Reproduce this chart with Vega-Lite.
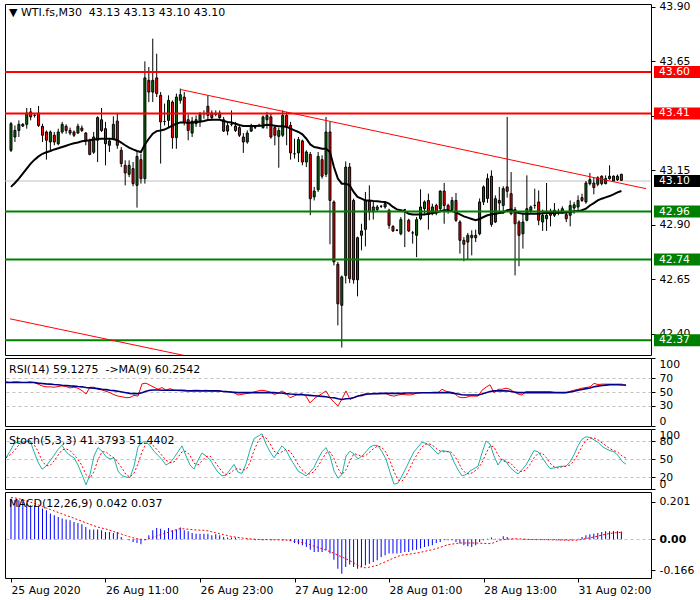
{
"$schema":"https://vega.github.io/schema/vega-lite/v6.json",
"background":"white",
"padding":{"left":2,"top":0,"right":0,"bottom":0},
"spacing":3,
"bounds":"flush",
"config":{
 "font":"DejaVu Sans",
 "view":{"stroke":"black","strokeWidth":1},
 "axis":{"labelFont":"DejaVu Sans","labelFontSize":10.8,"labelColor":"black","tickColor":"black","domainColor":"black","grid":false},
 "title":{"font":"DejaVu Sans","fontSize":11,"fontWeight":"normal","color":"black","anchor":"start","frame":"group","offset":-17,"baseline":"middle","dx":4}
},
"datasets":{
 "levels":[
  {"p":43.60,"kind":"res"},{"p":43.41,"kind":"res"},{"p":43.10,"kind":"bid"},{"p":42.96,"kind":"sup"},{"p":42.74,"kind":"sup"},{"p":42.37,"kind":"sup"}
 ],
 "trend":[
  {"line":"upper","i":43,"p":43.520},{"line":"upper","i":161.25,"p":43.065},
  {"line":"lower","i":-0.25,"p":42.468},{"line":"lower","i":50,"p":42.277}
 ],
 "bars":[
{"i":0,"o":43.241,"h":43.371,"l":43.233,"c":43.363,"ma":43.073,"rsi":65,"rm":64,"k":52,"d":52,"m":0.218,"s":0.224},
{"i":1,"o":43.302,"h":43.355,"l":43.279,"c":43.332,"ma":43.091,"rsi":64,"rm":64,"k":63,"d":57,"m":0.213,"s":0.222},
{"i":2,"o":43.332,"h":43.378,"l":43.302,"c":43.360,"ma":43.111,"rsi":65,"rm":64,"k":75,"d":63,"m":0.210,"s":0.218},
{"i":3,"o":43.352,"h":43.366,"l":43.348,"c":43.360,"ma":43.134,"rsi":65,"rm":64,"k":79,"d":72,"m":0.201,"s":0.212},
{"i":4,"o":43.360,"h":43.435,"l":43.340,"c":43.412,"ma":43.157,"rsi":64,"rm":64,"k":78,"d":77,"m":0.192,"s":0.206},
{"i":5,"o":43.417,"h":43.435,"l":43.378,"c":43.394,"ma":43.180,"rsi":64,"rm":64,"k":79,"d":79,"m":0.183,"s":0.199},
{"i":6,"o":43.401,"h":43.412,"l":43.391,"c":43.401,"ma":43.198,"rsi":65,"rm":64,"k":81,"d":79,"m":0.183,"s":0.192},
{"i":7,"o":43.412,"h":43.444,"l":43.348,"c":43.355,"ma":43.213,"rsi":64,"rm":64,"k":62,"d":74,"m":0.174,"s":0.184},
{"i":8,"o":43.351,"h":43.363,"l":43.279,"c":43.310,"ma":43.225,"rsi":61.6,"rm":63,"k":45,"d":63,"m":0.165,"s":0.176},
{"i":9,"o":43.325,"h":43.332,"l":43.198,"c":43.287,"ma":43.232,"rsi":59,"rm":62.6,"k":33,"d":47,"m":0.156,"s":0.168},
{"i":10,"o":43.279,"h":43.332,"l":43.241,"c":43.325,"ma":43.238,"rsi":57.6,"rm":62,"k":38,"d":39,"m":0.138,"s":0.160},
{"i":11,"o":43.310,"h":43.325,"l":43.264,"c":43.279,"ma":43.245,"rsi":57.6,"rm":61.6,"k":47,"d":39,"m":0.129,"s":0.152},
{"i":12,"o":43.271,"h":43.340,"l":43.264,"c":43.325,"ma":43.250,"rsi":57,"rm":61,"k":56,"d":47,"m":0.120,"s":0.144},
{"i":13,"o":43.325,"h":43.371,"l":43.317,"c":43.360,"ma":43.256,"rsi":58,"rm":60.6,"k":66,"d":56,"m":0.111,"s":0.136},
{"i":14,"o":43.351,"h":43.360,"l":43.317,"c":43.332,"ma":43.262,"rsi":59,"rm":60,"k":73,"d":65,"m":0.106,"s":0.128},
{"i":15,"o":43.332,"h":43.345,"l":43.310,"c":43.320,"ma":43.268,"rsi":58,"rm":59.6,"k":62,"d":67,"m":0.102,"s":0.121},
{"i":16,"o":43.325,"h":43.332,"l":43.302,"c":43.310,"ma":43.273,"rsi":56,"rm":59,"k":56,"d":64,"m":0.093,"s":0.113},
{"i":17,"o":43.320,"h":43.363,"l":43.317,"c":43.351,"ma":43.277,"rsi":57,"rm":58.6,"k":52,"d":57,"m":0.088,"s":0.105},
{"i":18,"o":43.343,"h":43.355,"l":43.325,"c":43.332,"ma":43.282,"rsi":55.5,"rm":58,"k":40,"d":49,"m":0.081,"s":0.097},
{"i":19,"o":43.320,"h":43.325,"l":43.264,"c":43.284,"ma":43.285,"rsi":52,"rm":57.6,"k":24,"d":39,"m":0.066,"s":0.089},
{"i":20,"o":43.287,"h":43.294,"l":43.218,"c":43.222,"ma":43.287,"rsi":47,"rm":56.6,"k":7,"d":24,"m":0.052,"s":0.081},
{"i":21,"o":43.232,"h":43.325,"l":43.225,"c":43.302,"ma":43.290,"rsi":57,"rm":56,"k":24,"d":18,"m":0.052,"s":0.073},
{"i":22,"o":43.287,"h":43.397,"l":43.187,"c":43.391,"ma":43.293,"rsi":57,"rm":55.5,"k":55,"d":29,"m":0.052,"s":0.066},
{"i":23,"o":43.381,"h":43.435,"l":43.325,"c":43.332,"ma":43.294,"rsi":54,"rm":55,"k":69,"d":49,"m":0.048,"s":0.060},
{"i":24,"o":43.340,"h":43.371,"l":43.172,"c":43.271,"ma":43.294,"rsi":53,"rm":54.1,"k":63,"d":62,"m":0.039,"s":0.056},
{"i":25,"o":43.264,"h":43.294,"l":43.233,"c":43.284,"ma":43.294,"rsi":51,"rm":53.5,"k":54,"d":62,"m":0.039,"s":0.049},
{"i":26,"o":43.294,"h":43.397,"l":43.287,"c":43.360,"ma":43.293,"rsi":49,"rm":52.6,"k":50,"d":56,"m":0.034,"s":0.042},
{"i":27,"o":43.375,"h":43.412,"l":43.248,"c":43.264,"ma":43.287,"rsi":46,"rm":52,"k":52,"d":52,"m":0.039,"s":0.035},
{"i":28,"o":43.241,"h":43.256,"l":43.164,"c":43.180,"ma":43.276,"rsi":44,"rm":51,"k":30,"d":44,"m":0.012,"s":0.028},
{"i":29,"o":43.172,"h":43.195,"l":43.080,"c":43.137,"ma":43.264,"rsi":43,"rm":50,"k":22,"d":35,"m":0.000,"s":0.021},
{"i":30,"o":43.131,"h":43.195,"l":43.118,"c":43.172,"ma":43.253,"rsi":41.6,"rm":49,"k":20,"d":24,"m":-0.005,"s":0.014},
{"i":31,"o":43.157,"h":43.187,"l":43.076,"c":43.088,"ma":43.245,"rsi":42,"rm":48,"k":19,"d":20,"m":-0.014,"s":0.008},
{"i":32,"o":43.080,"h":43.233,"l":42.978,"c":43.213,"ma":43.238,"rsi":45,"rm":47.6,"k":38,"d":26,"m":-0.020,"s":0.003},
{"i":33,"o":43.198,"h":43.225,"l":43.088,"c":43.111,"ma":43.233,"rsi":44,"rm":47.6,"k":70,"d":42,"m":-0.027,"s":0.000},
{"i":34,"o":43.111,"h":43.649,"l":43.088,"c":43.573,"ma":43.268,"rsi":62,"rm":49,"k":78,"d":62,"m":-0.005,"s":-0.002},
{"i":35,"o":43.562,"h":43.623,"l":43.462,"c":43.508,"ma":43.294,"rsi":63,"rm":51,"k":79,"d":76,"m":0.021,"s":0.003},
{"i":36,"o":43.508,"h":43.753,"l":43.462,"c":43.562,"ma":43.317,"rsi":60,"rm":52.6,"k":72,"d":76,"m":0.048,"s":0.010},
{"i":37,"o":43.573,"h":43.684,"l":43.485,"c":43.501,"ma":43.329,"rsi":57,"rm":53,"k":63,"d":71,"m":0.061,"s":0.018},
{"i":38,"o":43.493,"h":43.508,"l":43.180,"c":43.371,"ma":43.332,"rsi":54,"rm":53,"k":56,"d":64,"m":0.057,"s":0.025},
{"i":39,"o":43.373,"h":43.455,"l":43.355,"c":43.373,"ma":43.336,"rsi":56.6,"rm":52.6,"k":49,"d":56,"m":0.048,"s":0.032},
{"i":40,"o":43.378,"h":43.493,"l":43.348,"c":43.470,"ma":43.345,"rsi":52.6,"rm":52.6,"k":40,"d":48,"m":0.061,"s":0.038},
{"i":41,"o":43.462,"h":43.470,"l":43.248,"c":43.299,"ma":43.354,"rsi":55,"rm":52.6,"k":44,"d":44,"m":0.048,"s":0.045},
{"i":42,"o":43.299,"h":43.501,"l":43.248,"c":43.485,"ma":43.363,"rsi":52.6,"rm":52.6,"k":52,"d":45,"m":0.052,"s":0.052},
{"i":43,"o":43.470,"h":43.524,"l":43.455,"c":43.496,"ma":43.369,"rsi":52,"rm":52.6,"k":62,"d":53,"m":0.063,"s":0.057},
{"i":44,"o":43.485,"h":43.508,"l":43.355,"c":43.371,"ma":43.369,"rsi":51.6,"rm":52.6,"k":72,"d":62,"m":0.048,"s":0.056},
{"i":45,"o":43.381,"h":43.406,"l":43.287,"c":43.332,"ma":43.366,"rsi":51.6,"rm":52,"k":55,"d":63,"m":0.043,"s":0.054},
{"i":46,"o":43.320,"h":43.394,"l":43.302,"c":43.375,"ma":43.368,"rsi":52,"rm":51.6,"k":40,"d":56,"m":0.034,"s":0.052},
{"i":47,"o":43.363,"h":43.401,"l":43.348,"c":43.381,"ma":43.371,"rsi":52.6,"rm":51.6,"k":33,"d":43,"m":0.030,"s":0.050},
{"i":48,"o":43.375,"h":43.417,"l":43.348,"c":43.406,"ma":43.372,"rsi":52.6,"rm":51.6,"k":48,"d":40,"m":0.030,"s":0.049},
{"i":49,"o":43.409,"h":43.424,"l":43.386,"c":43.409,"ma":43.375,"rsi":52,"rm":51.6,"k":60,"d":47,"m":0.030,"s":0.048},
{"i":50,"o":43.443,"h":43.493,"l":43.378,"c":43.401,"ma":43.380,"rsi":52.6,"rm":51.6,"k":55,"d":54,"m":0.030,"s":0.045},
{"i":51,"o":43.412,"h":43.424,"l":43.378,"c":43.391,"ma":43.381,"rsi":51.6,"rm":51.6,"k":49,"d":55,"m":0.021,"s":0.040},
{"i":52,"o":43.406,"h":43.424,"l":43.397,"c":43.406,"ma":43.381,"rsi":51.6,"rm":51.6,"k":38,"d":47,"m":0.027,"s":0.035},
{"i":53,"o":43.391,"h":43.424,"l":43.386,"c":43.412,"ma":43.381,"rsi":51.6,"rm":51.6,"k":28,"d":38,"m":0.021,"s":0.030},
{"i":54,"o":43.381,"h":43.394,"l":43.325,"c":43.329,"ma":43.375,"rsi":51,"rm":51,"k":22,"d":29,"m":0.012,"s":0.025},
{"i":55,"o":43.329,"h":43.371,"l":43.310,"c":43.354,"ma":43.371,"rsi":50.6,"rm":50.6,"k":23,"d":24,"m":0.009,"s":0.020},
{"i":56,"o":43.360,"h":43.424,"l":43.351,"c":43.360,"ma":43.368,"rsi":50.6,"rm":50,"k":32,"d":26,"m":0.009,"s":0.015},
{"i":57,"o":43.352,"h":43.371,"l":43.325,"c":43.332,"ma":43.363,"rsi":49,"rm":49.5,"k":41,"d":32,"m":0.009,"s":0.012},
{"i":58,"o":43.345,"h":43.355,"l":43.302,"c":43.310,"ma":43.357,"rsi":45.6,"rm":49.1,"k":28,"d":34,"m":0.003,"s":0.009},
{"i":59,"o":43.302,"h":43.320,"l":43.229,"c":43.279,"ma":43.352,"rsi":46.6,"rm":49.1,"k":26,"d":32,"m":0.000,"s":0.006},
{"i":60,"o":43.279,"h":43.332,"l":43.271,"c":43.320,"ma":43.352,"rsi":47.6,"rm":49.1,"k":42,"d":32,"m":0.003,"s":0.004},
{"i":61,"o":43.329,"h":43.363,"l":43.325,"c":43.355,"ma":43.352,"rsi":48.6,"rm":49.1,"k":65,"d":44,"m":-0.002,"s":0.002},
{"i":62,"o":43.345,"h":43.354,"l":43.338,"c":43.345,"ma":43.352,"rsi":50,"rm":49.1,"k":84,"d":64,"m":-0.005,"s":0.000},
{"i":63,"o":43.355,"h":43.363,"l":43.348,"c":43.355,"ma":43.354,"rsi":51.6,"rm":49.1,"k":88,"d":79,"m":-0.002,"s":-0.001},
{"i":64,"o":43.345,"h":43.401,"l":43.340,"c":43.394,"ma":43.355,"rsi":52.6,"rm":49.1,"k":92,"d":88,"m":-0.005,"s":-0.002},
{"i":65,"o":43.381,"h":43.417,"l":43.340,"c":43.401,"ma":43.358,"rsi":51.6,"rm":49.1,"k":75,"d":85,"m":-0.002,"s":-0.002},
{"i":66,"o":43.394,"h":43.412,"l":43.294,"c":43.302,"ma":43.357,"rsi":50,"rm":49.1,"k":62,"d":76,"m":-0.005,"s":-0.002},
{"i":67,"o":43.345,"h":43.355,"l":43.264,"c":43.310,"ma":43.354,"rsi":46.6,"rm":49.1,"k":52,"d":63,"m":-0.002,"s":-0.003},
{"i":68,"o":43.305,"h":43.345,"l":43.161,"c":43.332,"ma":43.351,"rsi":48,"rm":48.5,"k":62,"d":59,"m":-0.002,"s":-0.003},
{"i":69,"o":43.310,"h":43.424,"l":43.302,"c":43.401,"ma":43.351,"rsi":51.6,"rm":48.5,"k":72,"d":62,"m":-0.005,"s":-0.004},
{"i":70,"o":43.401,"h":43.417,"l":43.264,"c":43.351,"ma":43.348,"rsi":48,"rm":47.6,"k":65,"d":66,"m":-0.002,"s":-0.005},
{"i":71,"o":43.355,"h":43.371,"l":43.198,"c":43.229,"ma":43.340,"rsi":41.6,"rm":47,"k":52,"d":63,"m":-0.009,"s":-0.008},
{"i":72,"o":43.225,"h":43.294,"l":43.203,"c":43.225,"ma":43.332,"rsi":44,"rm":46.6,"k":41,"d":53,"m":-0.020,"s":-0.011},
{"i":73,"o":43.229,"h":43.302,"l":43.187,"c":43.290,"ma":43.325,"rsi":46.6,"rm":46.2,"k":30,"d":41,"m":-0.027,"s":-0.015},
{"i":74,"o":43.284,"h":43.290,"l":43.172,"c":43.187,"ma":43.314,"rsi":47.6,"rm":46,"k":26,"d":32,"m":-0.032,"s":-0.018},
{"i":75,"o":43.187,"h":43.241,"l":43.164,"c":43.233,"ma":43.294,"rsi":44,"rm":45.6,"k":22,"d":26,"m":-0.041,"s":-0.022},
{"i":76,"o":43.222,"h":43.233,"l":42.943,"c":43.019,"ma":43.268,"rsi":34,"rm":45,"k":28,"d":25,"m":-0.056,"s":-0.030},
{"i":77,"o":43.027,"h":43.073,"l":43.011,"c":43.054,"ma":43.256,"rsi":40,"rm":44.5,"k":36,"d":29,"m":-0.068,"s":-0.037},
{"i":78,"o":43.060,"h":43.233,"l":43.050,"c":43.213,"ma":43.253,"rsi":44,"rm":44.1,"k":50,"d":38,"m":-0.068,"s":-0.044},
{"i":79,"o":43.198,"h":43.218,"l":43.111,"c":43.122,"ma":43.248,"rsi":47.6,"rm":43.5,"k":62,"d":49,"m":-0.068,"s":-0.051},
{"i":80,"o":43.131,"h":43.394,"l":43.118,"c":43.325,"ma":43.248,"rsi":51.6,"rm":43,"k":69,"d":60,"m":-0.059,"s":-0.058},
{"i":81,"o":43.325,"h":43.371,"l":42.810,"c":43.011,"ma":43.233,"rsi":41.6,"rm":42,"k":55,"d":62,"m":-0.077,"s":-0.066},
{"i":82,"o":43.004,"h":43.011,"l":42.713,"c":42.729,"ma":43.164,"rsi":35,"rm":41.6,"k":30,"d":51,"m":-0.110,"s":-0.075},
{"i":83,"o":42.718,"h":42.729,"l":42.438,"c":42.537,"ma":43.111,"rsi":29.5,"rm":40,"k":18,"d":34,"m":-0.158,"s":-0.085},
{"i":84,"o":42.530,"h":42.667,"l":42.336,"c":42.660,"ma":43.088,"rsi":40,"rm":39,"k":24,"d":24,"m":-0.185,"s":-0.095},
{"i":85,"o":42.667,"h":43.190,"l":42.630,"c":43.164,"ma":43.088,"rsi":51.6,"rm":40,"k":55,"d":32,"m":-0.149,"s":-0.104},
{"i":86,"o":43.164,"h":43.183,"l":42.632,"c":42.652,"ma":43.080,"rsi":39,"rm":40.5,"k":63,"d":47,"m":-0.135,"s":-0.115},
{"i":87,"o":43.011,"h":43.019,"l":42.629,"c":42.647,"ma":43.050,"rsi":42,"rm":42,"k":58,"d":59,"m":-0.149,"s":-0.125},
{"i":88,"o":42.647,"h":42.845,"l":42.571,"c":42.840,"ma":43.027,"rsi":44,"rm":44,"k":50,"d":57,"m":-0.158,"s":-0.140},
{"i":89,"o":42.851,"h":42.904,"l":42.782,"c":42.871,"ma":43.019,"rsi":46,"rm":45,"k":55,"d":54,"m":-0.149,"s":-0.150},
{"i":90,"o":42.878,"h":43.050,"l":42.800,"c":43.011,"ma":43.011,"rsi":47.6,"rm":46.6,"k":62,"d":56,"m":-0.140,"s":-0.153},
{"i":91,"o":43.008,"h":43.080,"l":42.920,"c":42.958,"ma":43.011,"rsi":47.6,"rm":47,"k":70,"d":62,"m":-0.131,"s":-0.150},
{"i":92,"o":42.958,"h":43.004,"l":42.923,"c":42.981,"ma":43.008,"rsi":47.6,"rm":47.6,"k":73,"d":68,"m":-0.122,"s":-0.145},
{"i":93,"o":42.969,"h":42.990,"l":42.958,"c":42.981,"ma":43.007,"rsi":47.6,"rm":47.6,"k":72,"d":72,"m":-0.113,"s":-0.140},
{"i":94,"o":42.984,"h":42.990,"l":42.976,"c":42.984,"ma":43.005,"rsi":47.6,"rm":48,"k":62,"d":69,"m":-0.095,"s":-0.130},
{"i":95,"o":42.981,"h":43.004,"l":42.973,"c":42.996,"ma":43.004,"rsi":47.6,"rm":48,"k":50,"d":61,"m":-0.086,"s":-0.122},
{"i":96,"o":42.966,"h":42.973,"l":42.881,"c":42.897,"ma":42.996,"rsi":45,"rm":48,"k":28,"d":47,"m":-0.077,"s":-0.112},
{"i":97,"o":42.892,"h":42.897,"l":42.866,"c":42.871,"ma":42.981,"rsi":44,"rm":48,"k":8,"d":29,"m":-0.077,"s":-0.102},
{"i":98,"o":42.874,"h":42.880,"l":42.870,"c":42.874,"ma":42.970,"rsi":45.5,"rm":48,"k":10,"d":15,"m":-0.077,"s":-0.094},
{"i":99,"o":42.858,"h":42.935,"l":42.851,"c":42.923,"ma":42.966,"rsi":46.6,"rm":48,"k":22,"d":13,"m":-0.074,"s":-0.086},
{"i":100,"o":42.969,"h":42.972,"l":42.797,"c":42.969,"ma":42.961,"rsi":46,"rm":48.5,"k":35,"d":22,"m":-0.068,"s":-0.083},
{"i":101,"o":42.920,"h":42.927,"l":42.866,"c":42.871,"ma":42.950,"rsi":45.6,"rm":48.5,"k":49,"d":35,"m":-0.068,"s":-0.080},
{"i":102,"o":42.862,"h":42.871,"l":42.813,"c":42.862,"ma":42.946,"rsi":47,"rm":48.5,"k":62,"d":49,"m":-0.059,"s":-0.077},
{"i":103,"o":42.851,"h":42.935,"l":42.751,"c":42.923,"ma":42.946,"rsi":49,"rm":48.5,"k":70,"d":60,"m":-0.056,"s":-0.074},
{"i":104,"o":42.927,"h":43.062,"l":42.920,"c":42.981,"ma":42.946,"rsi":49,"rm":49,"k":78,"d":70,"m":-0.050,"s":-0.070},
{"i":105,"o":42.973,"h":43.011,"l":42.950,"c":43.004,"ma":42.947,"rsi":49,"rm":49,"k":76,"d":75,"m":-0.041,"s":-0.065},
{"i":106,"o":43.011,"h":43.042,"l":42.877,"c":42.947,"ma":42.950,"rsi":49,"rm":49,"k":72,"d":75,"m":-0.038,"s":-0.060},
{"i":107,"o":42.950,"h":42.996,"l":42.943,"c":42.981,"ma":42.953,"rsi":49,"rm":49.1,"k":65,"d":71,"m":-0.032,"s":-0.056},
{"i":108,"o":42.988,"h":42.996,"l":42.943,"c":42.953,"ma":42.956,"rsi":49,"rm":49.1,"k":58,"d":65,"m":-0.020,"s":-0.050},
{"i":109,"o":42.973,"h":43.057,"l":42.958,"c":43.054,"ma":42.961,"rsi":54,"rm":49.1,"k":64,"d":62,"m":-0.014,"s":-0.043},
{"i":110,"o":43.054,"h":43.091,"l":42.904,"c":42.988,"ma":42.966,"rsi":51,"rm":49.1,"k":63,"d":62,"m":-0.005,"s":-0.036},
{"i":111,"o":42.988,"h":42.996,"l":42.950,"c":42.969,"ma":42.966,"rsi":50,"rm":49.1,"k":61,"d":63,"m":-0.005,"s":-0.029},
{"i":112,"o":42.969,"h":43.027,"l":42.958,"c":43.011,"ma":42.962,"rsi":49,"rm":48,"k":45,"d":56,"m":-0.005,"s":-0.026},
{"i":113,"o":43.011,"h":43.045,"l":42.912,"c":42.920,"ma":42.956,"rsi":43,"rm":47,"k":32,"d":46,"m":-0.014,"s":-0.023},
{"i":114,"o":42.912,"h":42.920,"l":42.767,"c":42.828,"ma":42.947,"rsi":41.6,"rm":46,"k":22,"d":33,"m":-0.023,"s":-0.020},
{"i":115,"o":42.828,"h":42.843,"l":42.732,"c":42.810,"ma":42.938,"rsi":42,"rm":45.6,"k":24,"d":26,"m":-0.032,"s":-0.020},
{"i":116,"o":42.820,"h":42.862,"l":42.739,"c":42.851,"ma":42.932,"rsi":44,"rm":45.6,"k":30,"d":25,"m":-0.038,"s":-0.020},
{"i":117,"o":42.840,"h":42.874,"l":42.759,"c":42.851,"ma":42.926,"rsi":44,"rm":45.6,"k":34,"d":29,"m":-0.041,"s":-0.020},
{"i":118,"o":42.851,"h":42.877,"l":42.820,"c":42.840,"ma":42.920,"rsi":44,"rm":45.6,"k":38,"d":34,"m":-0.032,"s":-0.020},
{"i":119,"o":42.858,"h":43.020,"l":42.851,"c":43.004,"ma":42.926,"rsi":52.6,"rm":47,"k":60,"d":44,"m":-0.014,"s":-0.021},
{"i":120,"o":43.004,"h":43.080,"l":42.990,"c":43.073,"ma":42.935,"rsi":57,"rm":49,"k":80,"d":59,"m":-0.005,"s":-0.022},
{"i":121,"o":43.020,"h":43.134,"l":43.000,"c":43.111,"ma":42.943,"rsi":60.6,"rm":50.6,"k":75,"d":72,"m":0.003,"s":-0.023},
{"i":122,"o":43.122,"h":43.149,"l":42.890,"c":42.901,"ma":42.947,"rsi":49,"rm":51.6,"k":55,"d":70,"m":0.009,"s":-0.023},
{"i":123,"o":42.912,"h":43.034,"l":42.907,"c":43.019,"ma":42.950,"rsi":54,"rm":51.6,"k":40,"d":57,"m":0.003,"s":-0.015},
{"i":124,"o":43.011,"h":43.073,"l":42.950,"c":42.999,"ma":42.953,"rsi":54,"rm":51.6,"k":50,"d":48,"m":0.003,"s":-0.005},
{"i":125,"o":42.988,"h":43.076,"l":42.950,"c":43.065,"ma":42.956,"rsi":55.6,"rm":51.6,"k":46,"d":45,"m":0.016,"s":-0.002},
{"i":126,"o":43.073,"h":43.394,"l":43.024,"c":43.053,"ma":42.966,"rsi":54,"rm":51,"k":36,"d":44,"m":0.012,"s":0.000},
{"i":127,"o":43.042,"h":43.141,"l":42.943,"c":42.950,"ma":42.969,"rsi":50,"rm":50,"k":30,"d":37,"m":0.003,"s":0.002},
{"i":128,"o":42.969,"h":42.981,"l":42.667,"c":42.904,"ma":42.958,"rsi":47,"rm":49.1,"k":25,"d":30,"m":0.003,"s":0.003},
{"i":129,"o":42.912,"h":42.920,"l":42.709,"c":42.851,"ma":42.953,"rsi":45.6,"rm":49.1,"k":32,"d":29,"m":0.000,"s":0.002},
{"i":130,"o":42.858,"h":42.953,"l":42.790,"c":42.912,"ma":42.950,"rsi":50.6,"rm":49.1,"k":40,"d":32,"m":-0.002,"s":0.001},
{"i":131,"o":42.920,"h":43.126,"l":42.915,"c":42.973,"ma":42.950,"rsi":50.6,"rm":49.1,"k":52,"d":41,"m":-0.002,"s":0.000},
{"i":132,"o":42.962,"h":42.988,"l":42.950,"c":42.981,"ma":42.950,"rsi":50.6,"rm":49.1,"k":64,"d":52,"m":-0.002,"s":-0.001},
{"i":133,"o":42.988,"h":43.065,"l":42.973,"c":42.988,"ma":42.950,"rsi":50.6,"rm":49.1,"k":62,"d":59,"m":-0.002,"s":-0.002},
{"i":134,"o":43.004,"h":43.057,"l":42.897,"c":42.920,"ma":42.950,"rsi":50.6,"rm":49.1,"k":53,"d":60,"m":-0.002,"s":-0.002},
{"i":135,"o":42.912,"h":42.969,"l":42.871,"c":42.943,"ma":42.952,"rsi":50.6,"rm":49.1,"k":43,"d":53,"m":-0.002,"s":-0.002},
{"i":136,"o":42.927,"h":43.091,"l":42.871,"c":42.943,"ma":42.953,"rsi":50.6,"rm":49.1,"k":34,"d":43,"m":-0.002,"s":-0.002},
{"i":137,"o":42.962,"h":42.973,"l":42.892,"c":42.943,"ma":42.953,"rsi":49.5,"rm":49.1,"k":35,"d":37,"m":-0.002,"s":-0.003},
{"i":138,"o":42.943,"h":42.999,"l":42.935,"c":42.966,"ma":42.953,"rsi":49,"rm":49.1,"k":37,"d":35,"m":-0.002,"s":-0.003},
{"i":139,"o":42.958,"h":42.973,"l":42.943,"c":42.958,"ma":42.955,"rsi":49,"rm":49.1,"k":38,"d":37,"m":-0.005,"s":-0.004},
{"i":140,"o":42.958,"h":42.984,"l":42.950,"c":42.973,"ma":42.955,"rsi":49,"rm":49.1,"k":38,"d":38,"m":-0.005,"s":-0.004},
{"i":141,"o":42.946,"h":42.958,"l":42.912,"c":42.927,"ma":42.956,"rsi":51,"rm":50,"k":45,"d":40,"m":-0.005,"s":-0.005},
{"i":142,"o":42.943,"h":43.011,"l":42.892,"c":42.988,"ma":42.958,"rsi":52.6,"rm":51,"k":57,"d":47,"m":-0.005,"s":-0.005},
{"i":143,"o":42.976,"h":43.004,"l":42.950,"c":42.991,"ma":42.961,"rsi":54,"rm":52.6,"k":72,"d":58,"m":-0.002,"s":-0.005},
{"i":144,"o":42.981,"h":43.034,"l":42.966,"c":43.011,"ma":42.962,"rsi":55.6,"rm":53.6,"k":83,"d":71,"m":0.003,"s":-0.005},
{"i":145,"o":43.024,"h":43.042,"l":43.004,"c":43.011,"ma":42.966,"rsi":56.6,"rm":55,"k":87,"d":81,"m":0.012,"s":0.000},
{"i":146,"o":43.004,"h":43.100,"l":42.996,"c":43.091,"ma":42.973,"rsi":57.6,"rm":56,"k":86,"d":85,"m":0.021,"s":0.004},
{"i":147,"o":43.088,"h":43.137,"l":43.080,"c":43.106,"ma":42.988,"rsi":62.6,"rm":57.6,"k":82,"d":85,"m":0.027,"s":0.008},
{"i":148,"o":43.091,"h":43.118,"l":43.039,"c":43.070,"ma":42.999,"rsi":61,"rm":58.6,"k":78,"d":82,"m":0.030,"s":0.012},
{"i":149,"o":43.085,"h":43.122,"l":43.076,"c":43.115,"ma":43.011,"rsi":61.6,"rm":59.6,"k":71,"d":77,"m":0.034,"s":0.017},
{"i":150,"o":43.122,"h":43.126,"l":43.080,"c":43.088,"ma":43.019,"rsi":61.6,"rm":60.1,"k":67,"d":72,"m":0.039,"s":0.022},
{"i":151,"o":43.088,"h":43.126,"l":43.085,"c":43.111,"ma":43.025,"rsi":61.6,"rm":60.6,"k":64,"d":67,"m":0.043,"s":0.027},
{"i":152,"o":43.111,"h":43.172,"l":43.106,"c":43.122,"ma":43.031,"rsi":61.6,"rm":60.6,"k":62,"d":64,"m":0.043,"s":0.031},
{"i":153,"o":43.100,"h":43.126,"l":43.098,"c":43.122,"ma":43.039,"rsi":61.6,"rm":60.6,"k":56,"d":61,"m":0.045,"s":0.034},
{"i":154,"o":43.106,"h":43.130,"l":43.100,"c":43.122,"ma":43.048,"rsi":61.6,"rm":60.4,"k":46,"d":55,"m":0.045,"s":0.036},
{"i":155,"o":43.131,"h":43.133,"l":43.100,"c":43.103,"ma":43.054,"rsi":59.1,"rm":60.25,"k":41.4,"d":51.4,"m":0.042,"s":0.037}
 ]
},
"vconcat":[
 {
  "width":646,"height":351,
  "title":{"text":"▼ WTI.fs,M30\u00a0 43.13 43.13 43.10 43.10"},
  "layer":[
   {"data":{"name":"levels"},"transform":[{"filter":"datum.kind == 'bid'"}],
    "mark":{"type":"rule","color":"#C0C0C0","strokeWidth":1},
    "encoding":{"y":{"field":"p","type":"quantitative","scale":{"domain":[42.302,43.912],"nice":false,"zero":false},
      "axis":{"orient":"right","title":null,"values":[43.90,43.65,43.40,43.15,42.90,42.65,42.40],"format":".2f","tickSize":4,"labelPadding":4,"domain":false,"labelBaseline":"middle","zindex":0}}}},
   {"data":{"name":"bars"},
    "mark":{"type":"rule","color":"black","strokeWidth":1},
    "encoding":{"x":{"field":"i","type":"quantitative","scale":{"domain":[-0.25,161.25],"nice":false,"zero":false},"axis":null},
      "y":{"field":"l","type":"quantitative","scale":{"domain":[42.302,43.912],"nice":false,"zero":false},
      "axis":{"orient":"right","title":null,"values":[43.90,43.65,43.40,43.15,42.90,42.65,42.40],"format":".2f","tickSize":4,"labelPadding":4,"domain":false,"labelBaseline":"middle","zindex":0}},"y2":{"field":"h"}}},
   {"data":{"name":"bars"},
    "mark":{"type":"bar","size":2,"stroke":"black","strokeWidth":1,"orient":"vertical"},
    "encoding":{"x":{"field":"i","type":"quantitative","scale":{"domain":[-0.25,161.25],"nice":false,"zero":false},"axis":null},
      "y":{"field":"o","type":"quantitative","scale":{"domain":[42.302,43.912],"nice":false,"zero":false},
      "axis":{"orient":"right","title":null,"values":[43.90,43.65,43.40,43.15,42.90,42.65,42.40],"format":".2f","tickSize":4,"labelPadding":4,"domain":false,"labelBaseline":"middle","zindex":0}},"y2":{"field":"c"},
      "fill":{"condition":{"test":"datum.c >= datum.o","value":"#0b6b0b"},"value":"#ff0000"}}},
   {"data":{"name":"bars"},
    "mark":{"type":"line","color":"black","strokeWidth":2},
    "encoding":{"x":{"field":"i","type":"quantitative","scale":{"domain":[-0.25,161.25],"nice":false,"zero":false},"axis":null},
      "y":{"field":"ma","type":"quantitative","scale":{"domain":[42.302,43.912],"nice":false,"zero":false},
      "axis":{"orient":"right","title":null,"values":[43.90,43.65,43.40,43.15,42.90,42.65,42.40],"format":".2f","tickSize":4,"labelPadding":4,"domain":false,"labelBaseline":"middle","zindex":0}}}},
   {"data":{"name":"levels"},"transform":[{"filter":"datum.kind != 'bid'"}],
    "mark":{"type":"rule","strokeWidth":2},
    "encoding":{"y":{"field":"p","type":"quantitative","scale":{"domain":[42.302,43.912],"nice":false,"zero":false},
      "axis":{"orient":"right","title":null,"values":[43.90,43.65,43.40,43.15,42.90,42.65,42.40],"format":".2f","tickSize":4,"labelPadding":4,"domain":false,"labelBaseline":"middle","zindex":0}},
      "color":{"field":"kind","type":"nominal","scale":{"domain":["res","bid","sup"],"range":["#ff0000","#000000","#008000"]},"legend":null}}},
   {"data":{"name":"trend"},
    "mark":{"type":"line","color":"#ff0000","strokeWidth":1,"clip":true},
    "encoding":{"x":{"field":"i","type":"quantitative","scale":{"domain":[-0.25,161.25],"nice":false,"zero":false},"axis":null},
      "y":{"field":"p","type":"quantitative","scale":{"domain":[42.302,43.912],"nice":false,"zero":false},
      "axis":{"orient":"right","title":null,"values":[43.90,43.65,43.40,43.15,42.90,42.65,42.40],"format":".2f","tickSize":4,"labelPadding":4,"domain":false,"labelBaseline":"middle","zindex":0}},
      "detail":{"field":"line","type":"nominal"}}},
   {"data":{"name":"levels"},
    "mark":{"type":"point","shape":"M0.5,-1H8.5V1H0.5Z","size":144,"filled":true,"opacity":1,"strokeWidth":0},
    "encoding":{"x":{"value":"width"},
      "y":{"field":"p","type":"quantitative","scale":{"domain":[42.302,43.912],"nice":false,"zero":false},
      "axis":{"orient":"right","title":null,"values":[43.90,43.65,43.40,43.15,42.90,42.65,42.40],"format":".2f","tickSize":4,"labelPadding":4,"domain":false,"labelBaseline":"middle","zindex":0}},
      "color":{"field":"kind","type":"nominal","scale":{"domain":["res","bid","sup"],"range":["#ff0000","#000000","#008000"]},"legend":null}}},
   {"data":{"name":"levels"},
    "mark":{"type":"text","align":"left","baseline":"middle","dx":8,"color":"white","fontSize":10.8,"font":"DejaVu Sans"},
    "encoding":{"x":{"value":"width"},
      "y":{"field":"p","type":"quantitative","scale":{"domain":[42.302,43.912],"nice":false,"zero":false},
      "axis":{"orient":"right","title":null,"values":[43.90,43.65,43.40,43.15,42.90,42.65,42.40],"format":".2f","tickSize":4,"labelPadding":4,"domain":false,"labelBaseline":"middle","zindex":0}},
      "text":{"field":"p","type":"quantitative","format":".2f"}}}
  ]
 },
 {
  "width":646,"height":68,
  "title":{"text":"RSI(14) 59.1275\u00a0 ->MA(9) 60.2542"},
  "data":{"name":"bars"},
  "encoding":{"x":{"field":"i","type":"quantitative","scale":{"domain":[-0.25,161.25],"nice":false,"zero":false},"axis":null}},
  "layer":[
   {"mark":{"type":"line","color":"#ff0000","strokeWidth":1},
    "encoding":{"y":{"field":"rsi","type":"quantitative","scale":{"domain":[0,100],"nice":false},
      "axis":{"orient":"right","title":null,"values":[0,30,50,70,100],"tickSize":4,"labelPadding":4,"domain":false,"labelFlush":true,"labelOverlap":false,
        "grid":true,"gridColor":"#C0C0C0","gridDash":[3,3],"gridOpacity":{"condition":{"test":"datum.value == 0 || datum.value == 100","value":0},"value":1}}}}},
   {"mark":{"type":"line","color":"#00008B","strokeWidth":1.6},
    "encoding":{"y":{"field":"rm","type":"quantitative","scale":{"domain":[0,100],"nice":false},
      "axis":{"orient":"right","title":null,"values":[0,30,50,70,100],"tickSize":4,"labelPadding":4,"domain":false,"labelFlush":true,"labelOverlap":false,
        "grid":true,"gridColor":"#C0C0C0","gridDash":[3,3],"gridOpacity":{"condition":{"test":"datum.value == 0 || datum.value == 100","value":0},"value":1}}}}}
  ]
 },
 {
  "width":646,"height":60,
  "title":{"text":"Stoch(5,3,3) 41.3793 51.4402"},
  "data":{"name":"bars"},
  "encoding":{"x":{"field":"i","type":"quantitative","scale":{"domain":[-0.25,161.25],"nice":false,"zero":false},"axis":null}},
  "layer":[
   {"mark":{"type":"line","color":"#20B2AA","strokeWidth":1},
    "encoding":{"y":{"field":"k","type":"quantitative","scale":{"domain":[0,100],"nice":false},
      "axis":{"orient":"right","title":null,"values":[0,20,50,80,100],"tickSize":4,"labelPadding":4,"domain":false,"labelFlush":true,"labelOverlap":false,
        "grid":true,"gridColor":"#C0C0C0","gridDash":[3,3],"gridOpacity":{"condition":{"test":"datum.value == 0 || datum.value == 100","value":0},"value":1}}}}},
   {"mark":{"type":"line","color":"#ff0000","strokeWidth":1,"strokeDash":[2,2]},
    "encoding":{"y":{"field":"d","type":"quantitative","scale":{"domain":[0,100],"nice":false},
      "axis":{"orient":"right","title":null,"values":[0,20,50,80,100],"tickSize":4,"labelPadding":4,"domain":false,"labelFlush":true,"labelOverlap":false,
        "grid":true,"gridColor":"#C0C0C0","gridDash":[3,3],"gridOpacity":{"condition":{"test":"datum.value == 0 || datum.value == 100","value":0},"value":1}}}}}
  ]
 },
 {
  "width":646,"height":86,
  "title":{"text":"MACD(12,26,9) 0.042 0.037"},
  "data":{"name":"bars"},
  "encoding":{"x":{"field":"i","type":"quantitative","scale":{"domain":[-0.25,161.25],"nice":false,"zero":false},
     "axis":{"title":null,"values":[0,24,48,72,96,120,144],"labelExpr":"datum.value == 0 ? '25 Aug 2020' : datum.value == 24 ? '26 Aug 11:00' : datum.value == 48 ? '26 Aug 23:00' : datum.value == 72 ? '27 Aug 12:00' : datum.value == 96 ? '28 Aug 01:00' : datum.value == 120 ? '28 Aug 13:00' : '31 Aug 02:00'",
       "labelAlign":"left","labelBaseline":"top","tickSize":4,"labelPadding":2,"domain":false,"labelFlush":false,"labelOverlap":false,"labelBound":false}}},
  "layer":[
   {"mark":{"type":"bar","size":1,"color":"#0000FF","orient":"vertical"},
    "encoding":{"y":{"field":"m","type":"quantitative","scale":{"domain":[-0.208,0.254],"nice":false,"zero":false},
      "axis":{"orient":"right","title":null,"values":[0.201,0,-0.166],"labelExpr":"datum.value == 0 ? '0.00' : (datum.value < 0 ? '-' + format(-datum.value, '.3f') : format(datum.value, '.3f'))","labelFontWeight":{"condition":{"test":"datum.value == 0","value":"bold"},"value":"normal"},"tickSize":4,"labelPadding":4,"domain":false,"labelOverlap":false,
        "grid":true,"gridColor":"#C0C0C0","gridDash":[3,3],"gridOpacity":{"condition":{"test":"datum.value != 0","value":0},"value":1}}},
     "y2":{"datum":0}}},
   {"mark":{"type":"line","color":"#ff0000","strokeWidth":1,"strokeDash":[2,2]},
    "encoding":{"y":{"field":"s","type":"quantitative","scale":{"domain":[-0.208,0.254],"nice":false,"zero":false},
      "axis":{"orient":"right","title":null,"values":[0.201,0,-0.166],"labelExpr":"datum.value == 0 ? '0.00' : (datum.value < 0 ? '-' + format(-datum.value, '.3f') : format(datum.value, '.3f'))","labelFontWeight":{"condition":{"test":"datum.value == 0","value":"bold"},"value":"normal"},"tickSize":4,"labelPadding":4,"domain":false,"labelOverlap":false,
        "grid":true,"gridColor":"#C0C0C0","gridDash":[3,3],"gridOpacity":{"condition":{"test":"datum.value != 0","value":0},"value":1}}}}}
  ]
 }
]
}
